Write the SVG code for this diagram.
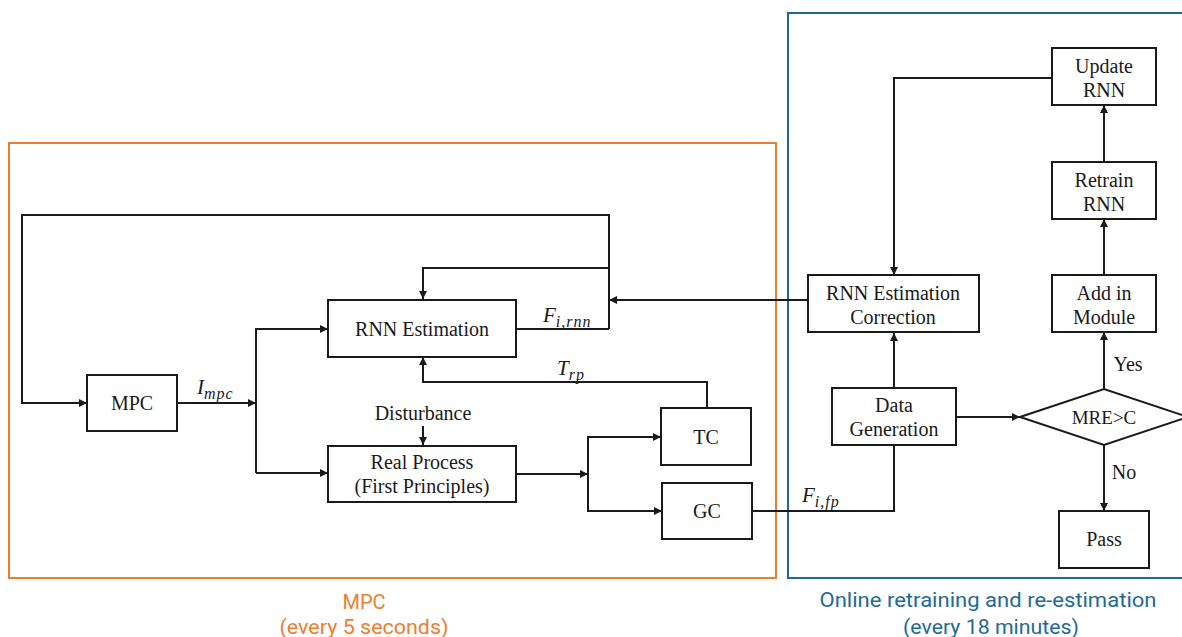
<svg xmlns="http://www.w3.org/2000/svg" width="1182" height="637" viewBox="0 0 1182 637">
<defs>
<marker id="ah" viewBox="0 0 10 10" refX="10" refY="5" markerWidth="8" markerHeight="8" markerUnits="userSpaceOnUse" orient="auto">
<path d="M0,0 L10,5 L0,10 z" fill="#1a1a1a"/>
</marker>
<style>
.box{fill:#fff;stroke:#1a1a1a;stroke-width:2}
.ln{fill:none;stroke:#1a1a1a;stroke-width:2}
.arr{fill:none;stroke:#1a1a1a;stroke-width:2;marker-end:url(#ah)}
.t{font-family:"Liberation Serif","Times New Roman",serif;font-size:20px;fill:#1a1a1a;text-anchor:middle}
.m{font-family:"Liberation Serif","Times New Roman",serif;font-style:italic;font-size:21px;fill:#1a1a1a}
.s{font-size:16px;letter-spacing:1px}
.orange{font-family:Roboto,"Liberation Sans",sans-serif;font-size:20px;fill:#ED7D31;text-anchor:middle}
.blue{font-family:Roboto,"Liberation Sans",sans-serif;font-size:20px;fill:#1F6A93;text-anchor:middle}
</style>
</defs>
<rect width="1182" height="637" fill="#fff"/>

<!-- region frames -->
<g id="frames">
<rect x="9" y="143" width="767" height="435" fill="none" stroke="#ED7D31" stroke-width="2"/>
<rect x="788" y="13" width="410" height="565" fill="none" stroke="#1F6A93" stroke-width="2"/>
<text class="orange" x="364" y="609">MPC</text>
<text class="orange" x="364" y="634" textLength="169" lengthAdjust="spacingAndGlyphs">(every 5 seconds)</text>
<text class="blue" x="988" y="607" textLength="337" lengthAdjust="spacingAndGlyphs">Online retraining and re-estimation</text>
<text class="blue" x="991" y="634" textLength="176" lengthAdjust="spacingAndGlyphs">(every 18 minutes)</text>
</g>

<!-- connectors -->
<g id="connectors">
<polyline class="arr" points="609,329 609,215 22,215 22,403 87,403"/>
<polyline class="arr" points="609,268 423,268 423,299"/>
<line class="ln" x1="516" y1="329" x2="609" y2="329"/>
<line class="arr" x1="808" y1="300" x2="609" y2="300"/>
<line class="arr" x1="177" y1="403" x2="256" y2="403"/>
<polyline class="arr" points="256,473 256,329 328,329"/>
<line class="arr" x1="256" y1="473" x2="328" y2="473"/>
<polyline class="arr" points="707,408 707,382 423,382 423,357"/>
<line class="arr" x1="423" y1="426" x2="423" y2="445"/>
<line class="arr" x1="516" y1="474" x2="588" y2="474"/>
<polyline class="arr" points="588,474 588,437 661,437"/>
<polyline class="arr" points="588,474 588,511 662,511"/>
<polyline class="ln" points="752,511 894,511 894,446"/>
<line class="arr" x1="894" y1="388" x2="894" y2="333"/>
<polyline class="arr" points="1052,78 894,78 894,275"/>
<line class="arr" x1="956" y1="417" x2="1020" y2="417"/>
<line class="arr" x1="1104" y1="389" x2="1104" y2="332"/>
<line class="arr" x1="1104" y1="275" x2="1104" y2="219"/>
<line class="arr" x1="1104" y1="162" x2="1104" y2="105"/>
<line class="arr" x1="1104" y1="445" x2="1104" y2="511"/>
<text class="m" x="197" y="394">I<tspan class="s" dy="5">mpc</tspan></text>
<text class="m" x="543" y="322">F<tspan class="s" dy="5">i,rnn</tspan></text>
<text class="m" x="557" y="375">T<tspan class="s" dy="5">rp</tspan></text>
<text class="m" x="802" y="502">F<tspan class="s" dy="5">i,fp</tspan></text>
<text class="t" x="423" y="420">Disturbance</text>
<text class="t" x="1128" y="371">Yes</text>
<text class="t" x="1124" y="479">No</text>
</g>

<g id="mpc">
<rect class="box" x="87" y="375" width="90" height="56"/>
<text class="t" x="132" y="410">MPC</text>
</g>
<g id="rnn-estimation">
<rect class="box" x="328" y="300" width="188" height="57"/>
<text class="t" x="422" y="336">RNN Estimation</text>
</g>
<g id="real-process">
<rect class="box" x="328" y="446" width="188" height="56"/>
<text class="t" x="422" y="469">Real Process</text>
<text class="t" x="422" y="493">(First Principles)</text>
</g>
<g id="tc">
<rect class="box" x="661" y="408" width="90" height="57"/>
<text class="t" x="706" y="444">TC</text>
</g>
<g id="gc">
<rect class="box" x="662" y="483" width="90" height="56"/>
<text class="t" x="707" y="518">GC</text>
</g>
<g id="rnn-correction">
<rect class="box" x="808" y="275" width="171" height="57"/>
<text class="t" x="893" y="300">RNN Estimation</text>
<text class="t" x="893" y="324">Correction</text>
</g>
<g id="data-generation">
<rect class="box" x="832" y="388" width="124" height="57"/>
<text class="t" x="894" y="412">Data</text>
<text class="t" x="894" y="436">Generation</text>
</g>
<g id="update-rnn">
<rect class="box" x="1052" y="48" width="104" height="57"/>
<text class="t" x="1104" y="73">Update</text>
<text class="t" x="1104" y="97">RNN</text>
</g>
<g id="retrain-rnn">
<rect class="box" x="1052" y="162" width="104" height="57"/>
<text class="t" x="1104" y="187">Retrain</text>
<text class="t" x="1104" y="211">RNN</text>
</g>
<g id="add-module">
<rect class="box" x="1052" y="275" width="104" height="57"/>
<text class="t" x="1104" y="300">Add in</text>
<text class="t" x="1104" y="324">Module</text>
</g>
<g id="decision">
<polygon class="box" points="1020,417 1104,389 1188,417 1104,445"/>
<text class="t" x="1104" y="424" style="font-size:19px">MRE&gt;C</text>
</g>
<g id="pass">
<rect class="box" x="1059" y="511" width="90" height="57"/>
<text class="t" x="1104" y="546">Pass</text>
</g>
</svg>
